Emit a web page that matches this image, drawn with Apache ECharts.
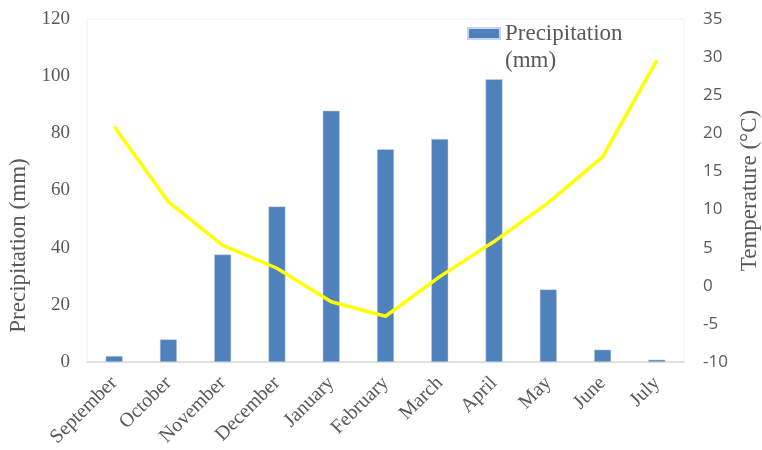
<!DOCTYPE html>
<html><head><meta charset="utf-8">
<script src="https://cdn.jsdelivr.net/npm/echarts@6/dist/echarts.min.js"></script>
<style>html,body{margin:0;padding:0;background:#fff}#c{width:762px;height:450px}</style>
</head><body><div id="c"></div>
<script>
const months = ['September','October','November','December','January','February','March','April','May','June','July'];
const precipitation = [2.1, 7.9, 37.6, 54.4, 87.9, 74.4, 78.0, 98.9, 25.4, 4.3, 0.8];
const temperature = [20.9, 11.0, 5.3, 2.3, -2.1, -4.0, 1.2, 5.8, 10.9, 16.9, 29.6];
const leftTicks = {min: 0, max: 120, interval: 20};
const rightTicks = {min: -10, max: 35, interval: 5};

const serif = '"Liberation Serif", "Times New Roman", serif';
const sans = '"Open Sans", "Noto Sans", sans-serif';
const chart = echarts.init(document.getElementById('c'));
chart.setOption({
  animation: false,
  grid: {left: 87, right: 78, top: 19, bottom: 88, show: true, borderColor: '#f2f2f2', borderWidth: 1,
         containLabel: false, outerBoundsMode: 'none'},
  legend: {
    data: ['Precipitation (mm)'], left: 467, top: -5, padding: 0, icon: 'rect',
    itemWidth: 32, itemHeight: 11, itemGap: 4,
    formatter: () => '{h| }\n{a|Precipitation}\n{a|(mm)}',
    textStyle: {
      fontFamily: serif, fontSize: 23, color: '#595959',
      rich: {
        h: {fontFamily: serif, fontSize: 23, lineHeight: 27, color: '#595959'},
        a: {fontFamily: serif, fontSize: 23, lineHeight: 27, color: '#595959'}
      }
    }
  },
  xAxis: {
    type: 'category', data: months,
    axisLine: {lineStyle: {color: '#d9d9d9', width: 1.5}},
    axisTick: {show: false},
    axisLabel: {rotate: 45, interval: 0, fontFamily: serif, fontSize: 20, color: '#595959', margin: 18}
  },
  yAxis: [{
    type: 'value', min: leftTicks.min, max: leftTicks.max, interval: leftTicks.interval,
    name: '{a|Precipitation (mm)}{s|}', nameLocation: 'middle', nameGap: 50, nameRotate: 90,
    nameTextStyle: {fontFamily: serif, fontSize: 23, color: '#595959',
      rich: {a: {fontFamily: serif, fontSize: 23, color: '#595959'}, s: {width: 110}}},
    splitLine: {show: false}, axisLine: {show: false}, axisTick: {show: false},
    axisLabel: {fontFamily: serif, fontSize: 19, color: '#595959', margin: 17}
  }, {
    type: 'value', min: rightTicks.min, max: rightTicks.max, interval: rightTicks.interval,
    name: 'Temperature (°C)', nameLocation: 'middle', nameGap: 54, nameRotate: 90,
    nameTextStyle: {fontFamily: serif, fontSize: 23, color: '#595959'},
    splitLine: {show: false}, axisLine: {show: false}, axisTick: {show: false},
    axisLabel: {fontFamily: sans, fontSize: 17, color: '#595959', margin: 19}
  }],
  series: [{
    name: 'Precipitation (mm)', type: 'bar', data: precipitation, barWidth: 17,
    itemStyle: {color: '#4f81bd', borderColor: '#c5d5ea', borderWidth: 0.5}
  }, {
    name: 'Temperature', type: 'line', yAxisIndex: 1, data: temperature,
    symbol: 'none', lineStyle: {color: '#ffff00', width: 3.5}, itemStyle: {color: '#ffff00'}
  }]
});
</script></body></html>
